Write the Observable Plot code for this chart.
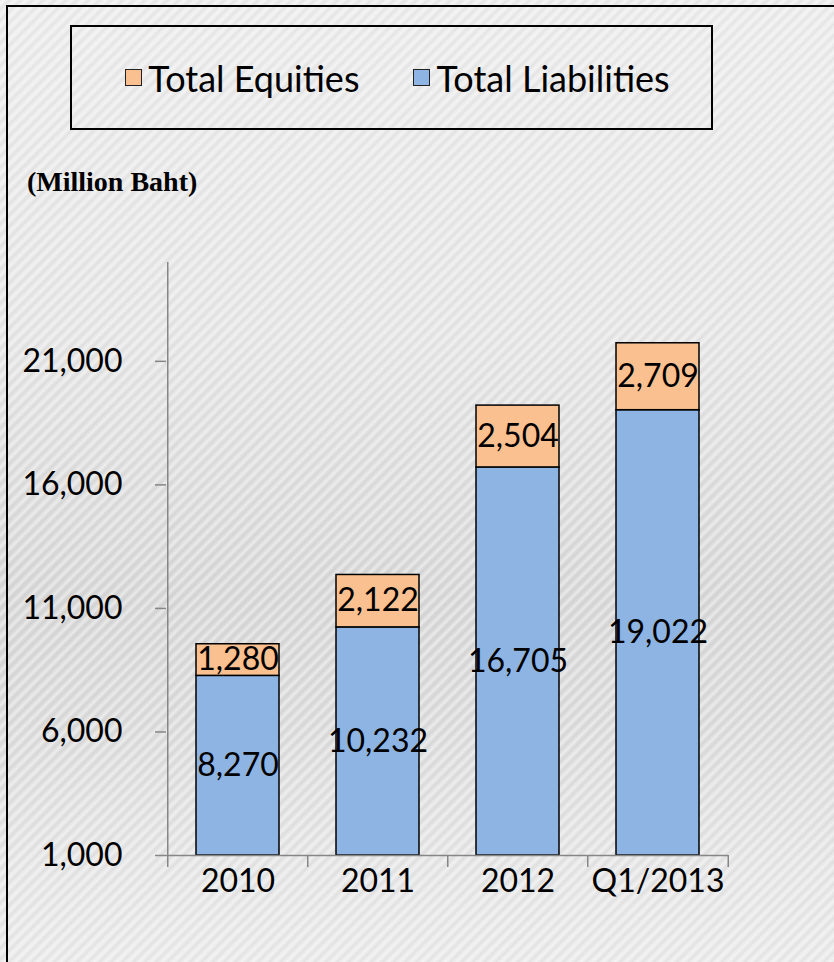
<!DOCTYPE html>
<html>
<head>
<meta charset="utf-8">
<script src="https://cdn.jsdelivr.net/npm/d3@7"></script>
<script src="https://cdn.jsdelivr.net/npm/@observablehq/plot@0.6"></script>
<style>
html, body { margin: 0; padding: 0; }
#wrap {
  position: relative; width: 834px; height: 962px; overflow: hidden;
  background:
    repeating-linear-gradient(135deg, rgba(255,255,255,0) 0px, rgba(255,255,255,0.45) 3px, rgba(255,255,255,0) 5px, rgba(0,0,0,0.035) 7px, rgba(255,255,255,0) 8px),
    linear-gradient(to bottom, #ececec 0%, #e6e6e6 35%, #d8d8d8 62%, #dcdcdc 75%, #e6e6e6 90%, #eaeaea 100%);
}
#frameline { position: absolute; left: 6px; top: 5px; right: -10px; bottom: -10px; border-left: 2px solid #000; border-top: 2px solid #000; }
#legend {
  position: absolute; left: 70px; top: 25px; width: 627px; height: 101px; padding-left: 12px;
  border: 2px solid #000; display: flex; align-items: center; justify-content: center;
  font-family: Lato, sans-serif; font-size: 36px; color: #000;
}
.item { display: flex; align-items: center; margin: 0 27px; }
.sw { width: 15px; height: 15px; border: 1px solid #222; margin-right: 6px; }
#unit { position: absolute; left: 27px; top: 166px; font-family: "Liberation Serif", "Times New Roman", serif; font-weight: bold; font-size: 28px; color: #000; }
#chart { position: absolute; left: 0; top: 0; }
</style>
</head>
<body>
<div id="wrap">
  <div id="frameline"></div>
  <div id="legend"></div>
  <div id="unit">(Million Baht)</div>
  <div id="chart"></div>
</div>
<script>
// Data
const categories = ["2010", "2011", "2012", "Q1/2013"];
const liabilities = [8270, 10232, 16705, 19022];
const equities = [1280, 2122, 2504, 2709];
const seriesNames = ["Total Equities", "Total Liabilities"];
const seriesColors = ["#FAC090", "#8EB4E3"];
const yTicks = [1000, 6000, 11000, 16000, 21000];
const yDomain = [1000, 25000];

// Legend
const legend = document.getElementById("legend");
seriesNames.forEach((n, i) => {
  const it = document.createElement("div");
  it.className = "item";
  const sw = document.createElement("div");
  sw.className = "sw";
  sw.style.background = seriesColors[i];
  const t = document.createElement("span");
  t.textContent = n;
  it.appendChild(sw); it.appendChild(t);
  legend.appendChild(it);
});

// Rows
const yMin = yDomain[0];
const rows = [];
categories.forEach((c, i) => {
  rows.push({year: c, series: "Total Liabilities", value: liabilities[i], y1: yMin, y2: liabilities[i]});
  rows.push({year: c, series: "Total Equities", value: equities[i], y1: liabilities[i], y2: liabilities[i] + equities[i]});
});

const W = 834, H = 962;
const mL = 166, mR = 106, mT = 262, mB = 107;
const step = (W - mL - mR) / categories.length;
const axisGray = "#868686";
const fmt = d3.format(",");

const plot = Plot.plot({
  width: W, height: H,
  marginLeft: mL, marginRight: mR, marginTop: mT, marginBottom: mB,
  style: {background: "transparent", fontFamily: "Lato, sans-serif", fontSize: "32px", color: "#000", overflow: "visible"},
  x: {domain: categories, paddingInner: 0.41, paddingOuter: 0.205},
  y: {domain: yDomain},
  color: {domain: seriesNames, range: seriesColors},
  marks: [
    Plot.barY(rows, {x: "year", y1: "y1", y2: "y2", fill: "series", stroke: "#000", strokeWidth: 1.5}),
    Plot.ruleY([yMin], {stroke: axisGray, strokeWidth: 1.5}),
    Plot.ruleX([categories[0]], {x: d => d, dx: -step / 2, y1: yMin, y2: yDomain[1], stroke: axisGray, strokeWidth: 1.5}),
    Plot.ruleX(categories, {x: d => d, dx: -step / 2, y1: yMin, y2: yMin, insetBottom: -12, stroke: axisGray, strokeWidth: 1.5}),
    Plot.ruleX([categories[categories.length - 1]], {x: d => d, dx: step / 2, y1: yMin, y2: yMin, insetBottom: -12, stroke: axisGray, strokeWidth: 1.5}),
    Plot.text(rows, {x: "year", y: d => (d.y1 + d.y2) / 2, text: d => fmt(d.value), fill: "#000", fontSize: 32}),
    Plot.axisY({ticks: yTicks, tickSize: 11, tickPadding: 33, tickFormat: fmt, stroke: axisGray, strokeWidth: 1.5, fill: "#000", fontSize: 32, label: null, strokeOpacity: 1}),
    Plot.axisX({tickSize: 0, tickPadding: 14, fill: "#000", fontSize: 32, label: null})
  ]
});
document.getElementById("chart").appendChild(plot);
</script>
</body>
</html>
